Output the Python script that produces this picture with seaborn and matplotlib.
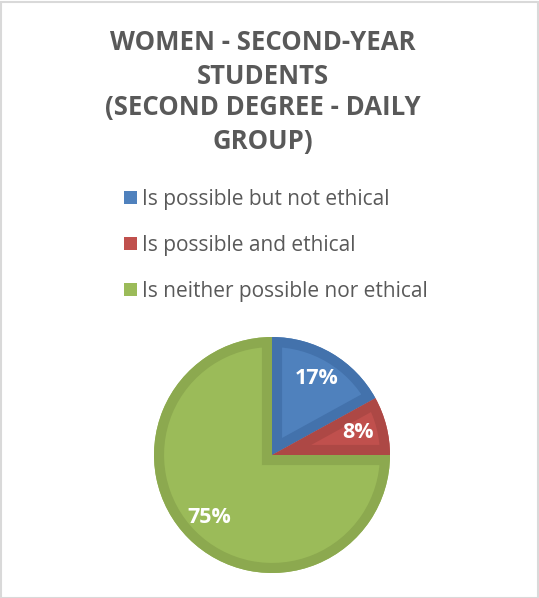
import matplotlib
matplotlib.use("Agg")
import matplotlib.pyplot as plt
import seaborn as sns
from matplotlib.patches import Patch, Rectangle, Wedge

# data
categories = ["Is possible but not ethical", "Is possible and ethical", "Is neither possible nor ethical"]
shares = [17, 8, 75]
fill_colors = ["#4F81BD", "#C0504D", "#9BBB59"]
edge_colors = ["#4372AC", "#AD4845", "#8CA94F"]
title_lines = ["WOMEN - SECOND-YEAR", "STUDENTS", "(SECOND DEGREE - DAILY", "GROUP)"]

sns.set_theme(style="white")
plt.rcParams['font.family'] = ['Open Sans', 'DejaVu Sans']

W, H = 539, 598
fig = plt.figure(figsize=(W / 100, H / 100), dpi=100)
fig.patch.set_facecolor("white")

# faint outer frame
fig.add_artist(Rectangle((0.002, 0.0), 0.996, 0.997, transform=fig.transFigure,
                         fill=False, edgecolor="#d9d9d9", linewidth=1.5))

# title
title_y = [43, 76, 108, 141]
for line, y in zip(title_lines, title_y):
    fig.text(263 / W, 1 - y / H, line, ha="center", va="center",
             fontsize=18.5, fontweight="bold", color="#595959")

# legend
handles = [Patch(facecolor=c, edgecolor="none") for c in fill_colors]
fig.legend(handles, categories, loc="upper left", bbox_to_anchor=(124 / W, 1 - 189 / H),
           frameon=False, fontsize=15, labelcolor="#595959",
           handlelength=0.62, handleheight=0.62, handletextpad=0.25,
           labelspacing=1.2, borderpad=0, borderaxespad=0)

# pie
cx, cy, r = 272, 455, 118
ax = fig.add_axes([(cx - r) / W, (H - cy - r) / H, 2 * r / W, 2 * r / H])
wedges, _, autotexts = ax.pie(shares, colors=fill_colors, startangle=90, counterclock=False,
                              autopct=lambda p: f"{p:.0f}%", pctdistance=0.75,
                              wedgeprops=dict(edgecolor="none"),
                              textprops=dict(color="white", fontsize=15.5, fontweight="bold"))
# darker inner border, like the office style
for w, ec in zip(wedges, edge_colors):
    rim = Wedge(w.center, w.r, w.theta1, w.theta2, facecolor="none",
                edgecolor=ec, linewidth=14.5, zorder=w.get_zorder() + 0.1)
    ax.add_patch(rim)
    rim.set_clip_path(w)
for t in autotexts:
    t.set_zorder(5)
ax.set_xlim(-1, 1)
ax.set_ylim(-1, 1)
ax.set_aspect("equal")
ax.axis("off")

fig.savefig("out.png", dpi=100)
